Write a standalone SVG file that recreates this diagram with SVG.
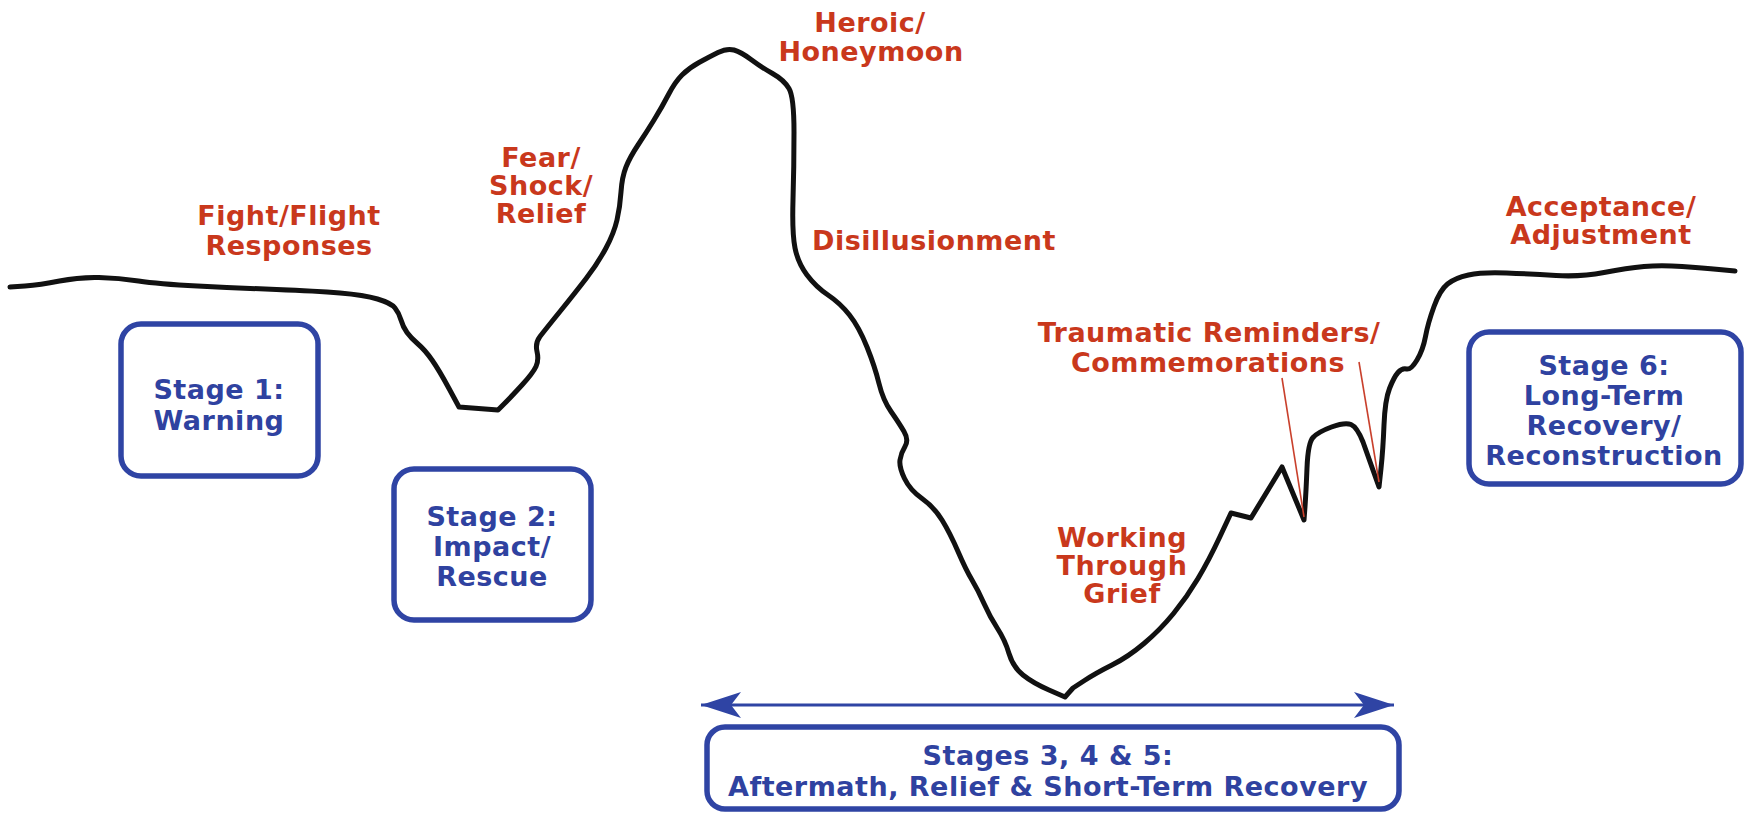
<svg xmlns="http://www.w3.org/2000/svg" width="1748" height="813" viewBox="0 0 1748 813">
<style>
  .lbl { font-family: "DejaVu Sans", Verdana, sans-serif; font-weight: bold; font-size: 27px; letter-spacing: 0.5px; text-anchor: middle; }
  .red { fill: #c9381c; }
  .blue { fill: #2f42a0; }
  .box { fill: #ffffff; stroke: #2f44a4; stroke-width: 5.5; }
  .curve { fill: none; stroke: #111111; stroke-width: 5; stroke-linejoin: round; stroke-linecap: round; }
  .leader { stroke: #c9402c; stroke-width: 1.6; fill: none; }
</style>
<defs>
  <marker id="ah" markerUnits="userSpaceOnUse" markerWidth="46" markerHeight="32" viewBox="-43 -16 46 32" refX="0" refY="0" orient="auto-start-reverse">
    <path d="M0,0 L-40,-13 L-30,0 L-40,13 Z" fill="#2f44a4"/>
  </marker>
</defs>
<rect width="1748" height="813" fill="#ffffff"/>

<g id="connectors">
  <path id="curve" class="curve" d="M 10,287 L 25,286 Q 40,285 59.5,281 Q 79,277 99,277.5 Q 119,278 138.5,281 Q 158,284 197.5,286 Q 237,288 276.5,289.5 Q 316,291 340,293 Q 364,295 377.5,299 Q 391,303 395,308 Q 399,313 401,320 Q 403,327 407,332.5 Q 411,338 418,344 Q 425,350 432,360 Q 439,370 449,388.5 L 459,407 L 498,410 L 504.5,403.5 Q 511,397 522,385 Q 533,373 536,366.5 Q 539,360 537,351.5 Q 535,343 540,336.5 Q 545,330 560,311.5 Q 575,293 586.5,278 Q 598,263 606,248 Q 614,233 617,220 Q 620,207 621,192 Q 622,177 626,167 Q 630,157 638,145 Q 646,133 654,120 Q 662,107 668.5,94.5 Q 675,82 682,75 Q 689,68 699,62.5 Q 709,57 718,52.5 Q 727,48 734,50 Q 741,52 751,59.5 Q 761,67 772.5,73.5 Q 784,80 789,88.5 Q 794,97 794,132 Q 794,167 793,200 Q 792,233 795,248 Q 798,263 807,275 Q 816,287 828,295 Q 840,303 849.5,315 Q 859,327 867,347 Q 875,367 879,383.5 Q 883,400 891,411.5 Q 899,423 904,431.5 Q 909,440 905,446.5 Q 901,453 900,460 Q 899,467 904.5,478.5 Q 910,490 922,498.5 Q 934,507 942,520 Q 950,533 958,551.5 Q 966,570 972,580 Q 978,590 984,603.5 Q 990,617 997.5,628.5 Q 1005,640 1009,653.5 Q 1013,667 1023,675 Q 1033,683 1049,690 L 1065,697 L 1073,688 L 1084.5,680.5 Q 1096,673 1112,665 Q 1128,657 1144,643.5 Q 1160,630 1173.5,613.5 Q 1187,597 1198,578.5 Q 1209,560 1220,536.5 L 1231,513 L 1251,518 L 1282,467 L 1304,520 L 1305,506.5 Q 1306,493 1307,468 Q 1308,443 1313,437.5 Q 1318,432 1331.5,427 Q 1345,422 1351,424.5 Q 1357,427 1363,442 L 1379,487 L 1381,468.5 Q 1383,450 1384,425 Q 1385,400 1389.5,388.5 Q 1394,377 1398,372.5 Q 1402,368 1406.5,369 Q 1411,370 1417,360 Q 1423,350 1425.5,336.5 Q 1428,323 1434,306.5 Q 1440,290 1447.5,284 Q 1455,278 1468.5,275 Q 1482,272 1506.5,273 Q 1531,274 1556,275.5 Q 1581,277 1604,272.5 Q 1627,268 1644,266.5 Q 1661,265 1682,266.5 Q 1703,268 1719,269.5 L 1735,271"/>
  <line class="leader" x1="1282" y1="378" x2="1304" y2="517"/>
  <line class="leader" x1="1359" y1="362" x2="1379" y2="482"/>
  <line id="span-arrow" x1="701" y1="705" x2="1394" y2="705" stroke="#2f44a4" stroke-width="3" marker-start="url(#ah)" marker-end="url(#ah)"/>
</g>

<g id="label-fight">
  <text class="lbl red" x="289" y="225">Fight/Flight</text>
  <text class="lbl red" x="289" y="255">Responses</text>
</g>
<g id="label-fear">
  <text class="lbl red" x="541" y="167">Fear/</text>
  <text class="lbl red" x="541" y="195">Shock/</text>
  <text class="lbl red" x="541" y="223">Relief</text>
</g>
<g id="label-heroic">
  <text class="lbl red" x="870" y="32">Heroic/</text>
  <text class="lbl red" x="871" y="61">Honeymoon</text>
</g>
<g id="label-disillusionment">
  <text class="lbl red" x="934" y="250">Disillusionment</text>
</g>
<g id="label-traumatic">
  <text class="lbl red" x="1209" y="342">Traumatic Reminders/</text>
  <text class="lbl red" x="1208" y="372">Commemorations</text>
</g>
<g id="label-working">
  <text class="lbl red" x="1122" y="547">Working</text>
  <text class="lbl red" x="1122" y="575">Through</text>
  <text class="lbl red" x="1122" y="603">Grief</text>
</g>
<g id="label-acceptance">
  <text class="lbl red" x="1601" y="216">Acceptance/</text>
  <text class="lbl red" x="1601" y="244">Adjustment</text>
</g>

<g id="stage1">
  <rect class="box" x="121" y="324" width="197" height="152" rx="20"/>
  <text class="lbl blue" x="219" y="399">Stage 1:</text>
  <text class="lbl blue" x="219" y="430">Warning</text>
</g>
<g id="stage2">
  <rect class="box" x="394" y="469" width="197" height="151" rx="20"/>
  <text class="lbl blue" x="492" y="526">Stage 2:</text>
  <text class="lbl blue" x="492" y="556">Impact/</text>
  <text class="lbl blue" x="492" y="586">Rescue</text>
</g>
<g id="stage6">
  <rect class="box" x="1469" y="332" width="272" height="152" rx="20"/>
  <text class="lbl blue" x="1604" y="375">Stage 6:</text>
  <text class="lbl blue" x="1604" y="405">Long-Term</text>
  <text class="lbl blue" x="1604" y="435">Recovery/</text>
  <text class="lbl blue" x="1604" y="465">Reconstruction</text>
</g>
<g id="stages345">
  <rect class="box" x="707" y="727" width="692" height="82" rx="18"/>
  <text class="lbl blue" x="1048" y="765">Stages 3, 4 &amp; 5:</text>
  <text class="lbl blue" x="1048" y="796">Aftermath, Relief &amp; Short-Term Recovery</text>
</g>
</svg>
